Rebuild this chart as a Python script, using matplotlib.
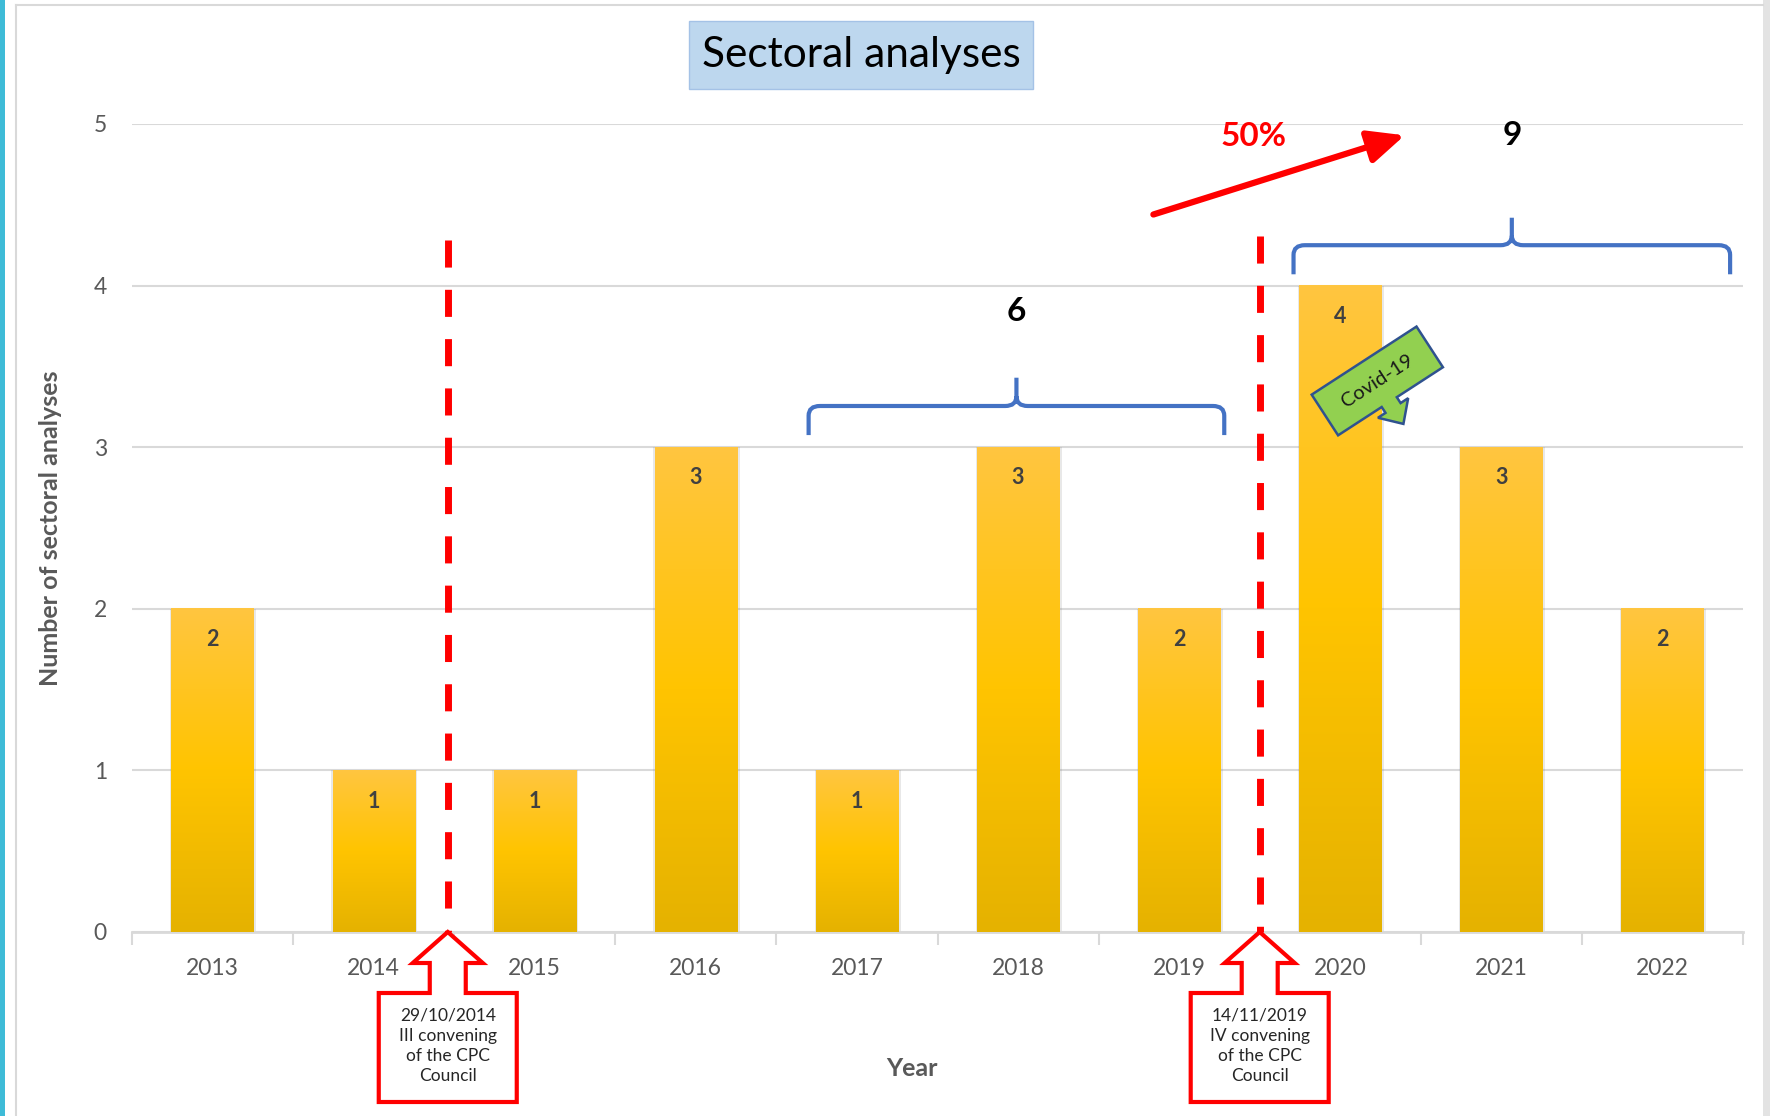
import numpy as np
import matplotlib
matplotlib.use("Agg")
import matplotlib.pyplot as plt
from matplotlib.path import Path
from matplotlib.patches import PathPatch, Polygon, Rectangle
from matplotlib.transforms import IdentityTransform
from matplotlib.colors import LinearSegmentedColormap

plt.rcParams['font.family'] = ['Lato', 'DejaVu Sans']

# data
years = ['2013', '2014', '2015', '2016', '2017', '2018', '2019', '2020', '2021', '2022']
counts = [2, 1, 1, 3, 1, 3, 2, 4, 3, 2]

# council convenings (position between categories, top of dashed line)
convene_x = [1.46, 6.5]
convene_top = [4.28, 4.31]
convene_labels = ['29/10/2014\nIII convening\nof the CPC\nCouncil',
                  '14/11/2019\nIV convening\nof the CPC\nCouncil']

# grouped periods: (first index, last index)
groups = [(4, 6), (7, 9)]

W, H = 1770, 1116
fig = plt.figure(figsize=(W / 100, H / 100), dpi=100)
ax = fig.add_axes([132 / W, 1 - 932 / H, (1743 - 132) / W, (932 - 124) / H])

x = np.arange(len(years))
# soft shadow + gradient bars
ax.bar(x + 0.004, counts, width=0.535, color='#808080', alpha=0.18, zorder=2)
bars = ax.bar(x, counts, width=0.51, color='none', zorder=3)
cmap = LinearSegmentedColormap.from_list('gold', ['#E5B200', '#FFC400', '#FFC640'])
grad = np.linspace(0, 1, 256).reshape(-1, 1)
for b in bars:
    x0, w, h = b.get_x(), b.get_width(), b.get_height()
    ax.imshow(grad, extent=[x0, x0 + w, 0, h], origin='lower', aspect='auto',
              cmap=cmap, zorder=3)
for i, v in enumerate(counts):
    ax.text(i, v - 0.19, str(v), ha='center', va='center', fontsize=15.5,
            fontweight='bold', color='#404040', zorder=5)

ax.set_xlim(-0.5, len(years) - 0.5)
ax.set_ylim(0, 5)
ax.set_yticks(range(6))
ax.yaxis.grid(True, color='#D9D9D9', lw=1.5)
ax.set_axisbelow(True)
for s in ['top', 'right', 'left']:
    ax.spines[s].set_visible(False)
ax.spines['bottom'].set_color('#D9D9D9')
ax.spines['bottom'].set_linewidth(2)
ax.set_xticks(x, years)
ax.set_xticks(np.arange(-0.5, len(years), 1), minor=True)
ax.tick_params(axis='x', which='major', length=0, pad=19, labelsize=16.5, labelcolor='#595959')
ax.tick_params(axis='x', which='minor', length=9, width=1.5, color='#D9D9D9')
ax.tick_params(axis='y', length=0, pad=18, labelsize=16.5, labelcolor='#595959')

fig.text(51 / W, 1 - 528 / H, 'Number of sectoral analyses', rotation=90,
         ha='center', va='center', fontsize=18, fontweight='bold', color='#595959')
fig.text(912 / W, 1 - 1068 / H, 'Year', ha='center', va='center',
         fontsize=18, fontweight='bold', color='#595959')

# red dashed convening lines
for xp, top in zip(convene_x, convene_top):
    ax.plot([xp, xp], [top, 0], color='#FF0000', lw=5, ls=(0, (3.9, 3.2)),
            clip_on=False, zorder=4, dash_capstyle='butt')


# curly braces above groups
def brace(x0, x1, yh, ye, yt):
    xm = (x0 + x1) / 2
    dx, dy = 0.07, 0.06
    verts = [(x0, ye), (x0, yh - dy), (x0, yh), (x0 + dx, yh), (xm - dx, yh),
             (xm, yh), (xm, yh + dy), (xm, yt), (xm, yh + dy), (xm, yh),
             (xm + dx, yh), (x1 - dx, yh), (x1, yh), (x1, yh - dy), (x1, ye)]
    codes = [Path.MOVETO, Path.LINETO, Path.CURVE3, Path.CURVE3, Path.LINETO,
             Path.CURVE3, Path.CURVE3, Path.LINETO, Path.MOVETO, Path.CURVE3,
             Path.CURVE3, Path.LINETO, Path.CURVE3, Path.CURVE3, Path.LINETO]
    ax.add_patch(PathPatch(Path(verts, codes), fill=False, ec='#4472C4', lw=3,
                           clip_on=False, zorder=4))
    return xm


brace_geom = [(3.70, 6.28, 3.255, 3.075, 3.43, 3.84),
              (6.71, 9.42, 4.25, 4.07, 4.42, 4.93)]
totals = []
for (a, b), (x0, x1, yh, ye, yt, ytxt) in zip(groups, brace_geom):
    xm = brace(x0, x1, yh, ye, yt)
    tot = sum(counts[a:b + 1])
    totals.append(tot)
    ax.text(xm, ytxt, str(tot), ha='center', va='center', fontsize=24,
            fontweight='bold', color='black')

# growth arrow
growth = round((totals[1] - totals[0]) / totals[0] * 100)
ax.annotate('', xy=(7.40, 4.93), xytext=(5.84, 4.44), annotation_clip=False,
            arrowprops=dict(arrowstyle='-|>,head_length=1.1,head_width=0.5',
                            mutation_scale=20, color='#FF0000', lw=4.5,
                            shrinkA=0, shrinkB=0))
ax.text(6.46, 4.92, f'{growth}%', ha='center', va='center', fontsize=24,
        fontweight='bold', color='#FF0000')

# up-arrow callouts below the convening lines (pixel offsets from tip)
call = [(0, 0), (35, 31), (18, 31), (18, 61), (69, 61), (69, 170),
        (-69, 170), (-69, 61), (-18, 61), (-18, 31), (-35, 31)]
for xp, lab in zip(convene_x, convene_labels):
    tx, ty = ax.transData.transform((xp, 0))
    pts = [(tx + dx, ty - dy) for dx, dy in call]
    fig.add_artist(Polygon(pts, closed=True, transform=IdentityTransform(),
                           fc='white', ec='#FF0000', lw=3, joinstyle='miter', zorder=10))
    fig.text(tx, ty - 114, lab, transform=IdentityTransform(), ha='center', va='center',
             fontsize=12.5, linespacing=1.32, color='#262626', zorder=11)

# Covid-19 callout
cx, cy = ax.transData.transform((7.23, 3.41))
ang = np.deg2rad(33)
U = np.array([np.cos(ang), -np.sin(ang)])
V = np.array([np.sin(ang), np.cos(ang)])
local = [(0, 0), (125, 0), (125, 48.5), (70, 48.5), (70, 55.5), (79, 55.5),
         (61, 74.5), (43, 55.5), (52, 55.5), (52, 48.5), (0, 48.5)]
cpts = []
for u, v in local:
    p = (u - 62.5) * U + (v - 24.25) * V
    cpts.append((cx + p[0], cy - p[1]))
fig.add_artist(Polygon(cpts, closed=True, transform=IdentityTransform(),
                       fc='#92D050', ec='#2F528F', lw=1.8, zorder=10))
fig.text(cx, cy, 'Covid-19', transform=IdentityTransform(), rotation=33,
         rotation_mode='anchor', ha='center', va='center', fontsize=14.5,
         color='#1A1A1A', zorder=11)

# title box
fig.add_artist(Rectangle((689 / W, 1 - 89 / H), 344 / W, 68 / H, transform=fig.transFigure,
                         fc='#BDD7EE', ec='#A4C2E6', lw=1))
fig.text(861 / W, 1 - 55 / H, 'Sectoral analyses', ha='center', va='center',
         fontsize=30.5, color='black')

# frame decorations
fig.add_artist(Rectangle((0, 0), 5 / W, 1, transform=fig.transFigure, fc='#3EBBD7', ec='none'))
fig.add_artist(Rectangle((1763 / W, 0), 7 / W, 1, transform=fig.transFigure, fc='#E3E3E3', ec='none'))
fig.add_artist(plt.Line2D([16 / W, 1763 / W], [1 - 5 / H, 1 - 5 / H], transform=fig.transFigure,
                          color='#D9D9D9', lw=1.5))
fig.add_artist(plt.Line2D([16 / W, 16 / W], [0, 1 - 5 / H], transform=fig.transFigure,
                          color='#D9D9D9', lw=1.5))

fig.savefig('out.png', dpi=100)
